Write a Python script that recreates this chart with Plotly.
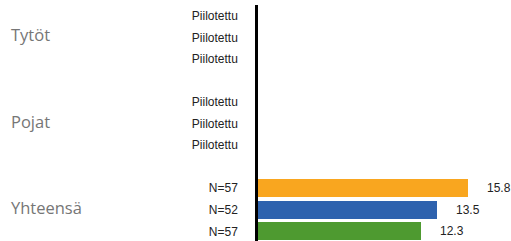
import plotly.graph_objects as go

groups = ["Tytöt", "Pojat", "Yhteensä"]
series_colors = ["#F9A61F", "#2E62AE", "#4E9A30"]
tytot_values = [None, None, None]
tytot_labels = ["Piilotettu", "Piilotettu", "Piilotettu"]
pojat_values = [None, None, None]
pojat_labels = ["Piilotettu", "Piilotettu", "Piilotettu"]
yhteensa_values = [15.8, 13.5, 12.3]
yhteensa_labels = ["N=57", "N=52", "N=57"]

group_values = [tytot_values, pojat_values, yhteensa_values]
group_labels = [tytot_labels, pojat_labels, yhteensa_labels]

fig = go.Figure()
tickvals, ticktext = [], []
annotations = []
slot = 0
for gi, g in enumerate(groups):
    ys = []
    for si in range(3):
        y = slot + si
        ys.append(y)
        tickvals.append(y)
        ticktext.append(group_labels[gi][si])
        v = group_values[gi][si]
        if v is not None:
            annotations.append(dict(x=v, y=y, xref="x", yref="y", text=f"{v:.1f}",
                                    showarrow=False, xanchor="left", xshift=17,
                                    font=dict(family="Liberation Sans, Arial", size=12, color="#222")))
    fig.add_trace(go.Bar(
        x=group_values[gi], y=ys, orientation="h",
        marker=dict(color=series_colors, line=dict(width=0)),
        width=0.83, showlegend=False, hoverinfo="skip"))
    annotations.append(dict(x=0, xref="paper", xanchor="left", xshift=-(258 - 9),
                            y=ys[1], yref="y", yshift=2.5, text=g, showarrow=False,
                            font=dict(family="Open Sans, Noto Sans", size=16.5, color="#767676")))
    slot += 4

fig.update_layout(
    width=511, height=241,
    margin=dict(l=258, r=0, t=5, b=0, pad=0),
    plot_bgcolor="white", paper_bgcolor="white",
    bargap=0, barmode="overlay",
    annotations=annotations,
    xaxis=dict(range=[0, (511 - 258) / 13.29], visible=False, fixedrange=True),
    yaxis=dict(range=[10.45, -0.5], tickvals=tickvals, ticktext=ticktext,
               showline=True, linecolor="black", linewidth=2.5,
               ticks="outside", ticklen=15, tickcolor="rgba(0,0,0,0)",
               showgrid=False, zeroline=False,
               tickfont=dict(family="Liberation Sans, Arial", size=12, color="#222")),
)
fig.write_html("out.html", config={"displayModeBar": False},
               post_script="document.body.style.margin='0px';")
